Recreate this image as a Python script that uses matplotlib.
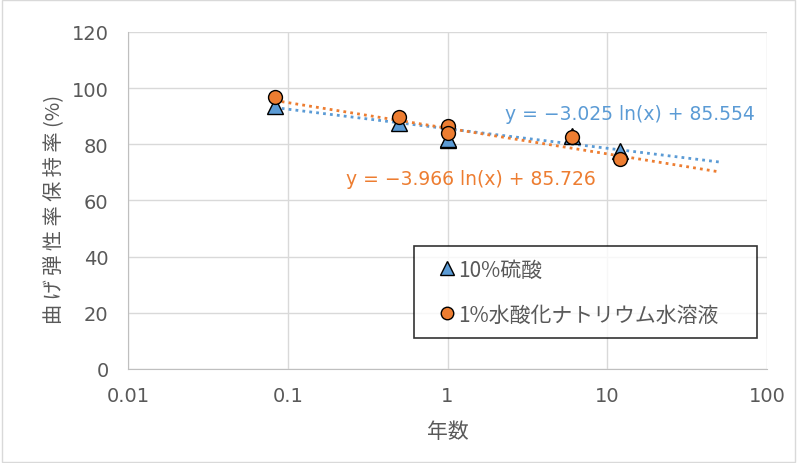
import numpy as np
import matplotlib.pyplot as plt

plt.rcParams['font.family'] = ['Noto Sans CJK JP', 'DejaVu Sans']

years = [0.083, 0.5, 1, 1, 6, 12]
acid = [93.5, 87.5, 81.5, 82.0, 83.0, 77.6]
alkali = [97.0, 89.8, 86.5, 84.0, 82.6, 74.8]
acid_label = "10%硫酸"
alkali_label = "1%水酸化ナトリウム水溶液"
# log trend coefficients: y = a ln(x) + b
acid_fit = (-3.025, 85.554)
alkali_fit = (-3.966, 85.726)
fit_range = (0.083, 50)

blue = "#5B9BD5"
orange = "#ED7D31"
grey = "#595959"

fig = plt.figure(figsize=(7.97, 4.64), dpi=100)
ax = fig.add_axes([0.1606, 0.2026, 0.8018, 0.7263])

xf = np.geomspace(fit_range[0], fit_range[1], 200)
ax.plot(xf, acid_fit[0] * np.log(xf) + acid_fit[1], ls=(0, (1, 1.5)), color=blue, lw=2, zorder=2)
ax.plot(xf, alkali_fit[0] * np.log(xf) + alkali_fit[1], ls=(0, (1, 1.5)), color=orange, lw=2, zorder=2)

ax.plot(years, acid, ls="none", marker="^", ms=11, mfc=blue, mec="black", mew=1, label=acid_label, zorder=3)
ax.plot(years, alkali, ls="none", marker="o", ms=10, mfc=orange, mec="black", mew=1, label=alkali_label, zorder=4)

ax.set_xscale("log")
ax.set_xlim(0.01, 100)
ax.set_ylim(0, 120)
ax.set_yticks(range(0, 121, 20))
ax.set_xticks([0.01, 0.1, 1, 10, 100])
ax.set_xticklabels(["0.01", "0.1", "1", "10", "100"])
ax.minorticks_off()
ax.grid(True, color="#d9d9d9", lw=1)
ax.set_axisbelow(True)
for s in ["top", "right"]:
    ax.spines[s].set_visible(False)
for s in ["left", "bottom"]:
    ax.spines[s].set_color("#bfbfbf")
ax.tick_params(length=0, colors=grey, labelsize=14)
ax.tick_params(axis="y", pad=14)
ax.tick_params(axis="x", pad=12)
for lbl in ax.get_xticklabels() + ax.get_yticklabels():
    lbl.set_family("DejaVu Sans")

ax.set_xlabel("年数", color=grey, fontsize=15, labelpad=11)
# spaced out to mimic the wider glyph pitch of the original font
ax.set_ylabel("曲 げ 弾 性 率 保 持 率 (%)", color=grey, fontsize=14.5)
ax.yaxis.set_label_coords(-0.10, 0.475)

ax.text(13.8, 90.8, "y = −3.025 ln(x) + 85.554", color=blue, fontsize=13.5,
        family="DejaVu Sans", ha="center", va="center")
ax.text(1.41, 67.7, "y = −3.966 ln(x) + 85.726", color=orange, fontsize=13.5,
        family="DejaVu Sans", ha="center", va="center")

leg = ax.legend(loc="lower left", bbox_to_anchor=(0.4476, 0.092, 0.537, 0.285), mode="expand",
                borderaxespad=0, frameon=True, fancybox=False, edgecolor="black", fontsize=15,
                labelcolor=grey, handlelength=2.0, handletextpad=-0.48, borderpad=0.6,
                labelspacing=1.1, markerscale=0.9)
leg.get_frame().set_linewidth(1.2)

fig.patches.append(plt.Rectangle((0.003, 0.003), 0.994, 0.994, transform=fig.transFigure,
                                 fill=False, edgecolor="#d9d9d9", lw=1))
fig.savefig("out.png", dpi=100)
